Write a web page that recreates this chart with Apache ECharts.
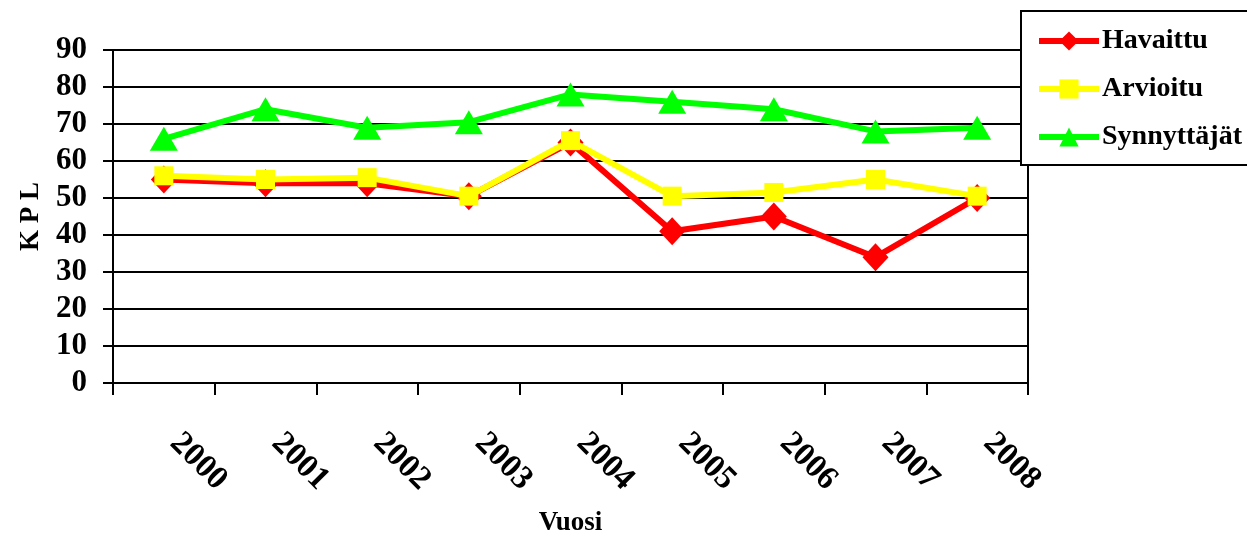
<!DOCTYPE html>
<html><head><meta charset="utf-8">
<script src="https://cdn.jsdelivr.net/npm/echarts@6/dist/echarts.min.js"></script>
<style>html,body{margin:0;padding:0;background:#fff}#c{width:1247px;height:535px}</style>
</head><body><div id="c"></div>
<script>
const years = ['2000','2001','2002','2003','2004','2005','2006','2007','2008'];
const havaittu = [55, 54, 54, 50.5, 65, 41, 45, 34, 50];
const arvioitu = [56, 55, 55.5, 50.5, 65.5, 50.5, 51.5, 55, 50.5];
const synnyttajat = [66, 74, 69, 70.5, 78, 76, 74, 68, 69];
const yTicks = { min: 0, max: 90, interval: 10 };

const font = '"Liberation Serif", "Times New Roman", serif';
const chart = echarts.init(document.getElementById('c'), null, { renderer: 'canvas' });
chart.setOption({
  animation: false,
  backgroundColor: '#fff',
  grid: { left: 113, right: 219, top: 50, bottom: 152, show: true, borderColor: '#000', borderWidth: 2,
          backgroundColor: 'transparent', containLabel: false, outerBoundsMode: 'none' },
  legend: {
    orient: 'vertical', left: 1021, top: 11,
    padding: [15, 60, 13, 15],
    backgroundColor: '#fff', borderColor: '#000', borderWidth: 2,
    itemWidth: 60, itemHeight: 24, itemGap: 18,
    lineStyle: { width: 6 },
    textStyle: { fontFamily: font, fontWeight: 'bold', fontSize: 28, color: '#000', lineHeight: 30, padding: [0,0,0,-2] },
    data: ['Havaittu', 'Arvioitu', 'Synnyttäjät']
  },
  xAxis: {
    type: 'category', data: years, boundaryGap: true,
    name: 'Vuosi', nameLocation: 'middle', nameGap: 127,
    nameTextStyle: { fontFamily: font, fontWeight: 'bold', fontSize: 27, color: '#000' },
    axisLine: { lineStyle: { color: '#000', width: 2 } },
    axisTick: { show: true, length: 12, inside: false, alignWithLabel: false, lineStyle: { color: '#000', width: 2 } },
    axisLabel: { rotate: -45, margin: 44, padding: [0, 0, 0, 16], fontFamily: font, fontWeight: 'bold', fontSize: 33, color: '#000', interval: 0 },
    splitLine: { show: false }
  },
  yAxis: {
    type: 'value', min: yTicks.min, max: yTicks.max, interval: yTicks.interval,
    name: 'K P L', nameLocation: 'middle', nameGap: 68, nameRotate: 90,
    nameTextStyle: { fontFamily: font, fontWeight: 'bold', fontSize: 27, color: '#000' },
    axisLine: { show: true, lineStyle: { color: '#000', width: 2 } },
    axisTick: { show: true, length: 10, inside: false, lineStyle: { color: '#000', width: 2 } },
    axisLabel: { margin: 26, fontFamily: font, fontWeight: 'bold', fontSize: 31, color: '#000' },
    splitLine: { show: true, lineStyle: { color: '#000', width: 2 } }
  },
  series: [
    { name: 'Synnyttäjät', type: 'line', data: synnyttajat, symbol: 'triangle', symbolSize: [28, 24],
      lineStyle: { color: '#00ff00', width: 6 }, itemStyle: { color: '#00ff00' }, z: 2 },
    { name: 'Havaittu', type: 'line', data: havaittu, symbol: 'diamond', symbolSize: [26, 28],
      lineStyle: { color: '#ff0000', width: 6 }, itemStyle: { color: '#ff0000' }, z: 3 },
    { name: 'Arvioitu', type: 'line', data: arvioitu, symbol: 'rect', symbolSize: [19, 19],
      lineStyle: { color: '#ffff00', width: 6 }, itemStyle: { color: '#ffff00' }, z: 4 }
  ]
});
</script></body></html>
